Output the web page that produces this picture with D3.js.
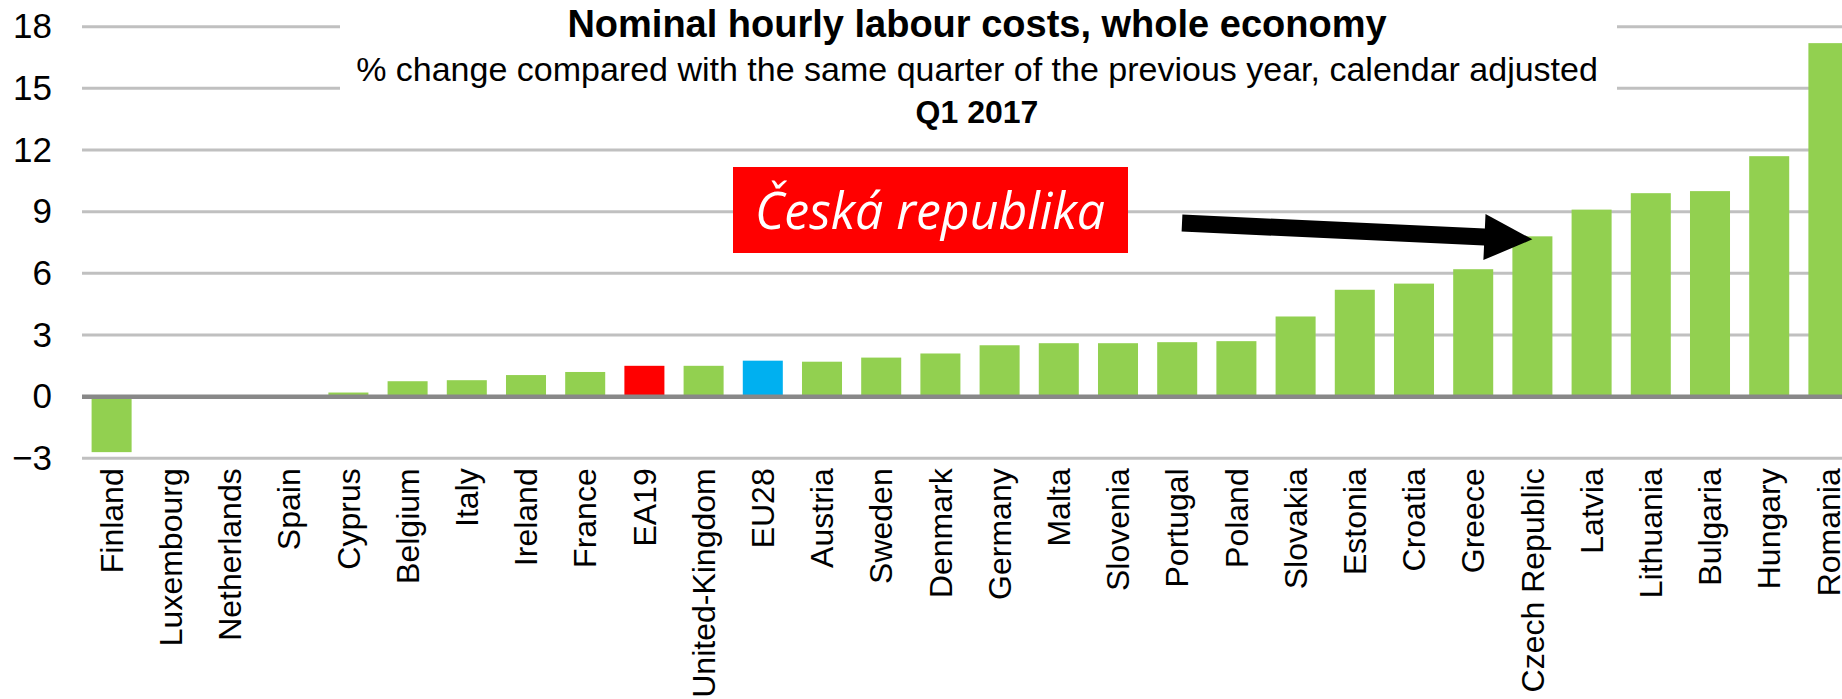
<!DOCTYPE html>
<html>
<head>
<meta charset="utf-8">
<script src="https://cdn.jsdelivr.net/npm/d3@7"></script>
<style>
body { margin: 0; background: #fff; }
svg { display: block; font-family: "Liberation Sans", Arial, sans-serif; }
</style>
</head>
<body>
<svg width="1842" height="699"></svg>
<script>
// data (Q1 2017, % change y/y)
var countries = ["Finland", "Luxembourg", "Netherlands", "Spain", "Cyprus", "Belgium", "Italy", "Ireland", "France", "EA19",
	"United-Kingdom", "EU28", "Austria", "Sweden", "Denmark", "Germany", "Malta", "Slovenia", "Portugal", "Poland",
	"Slovakia", "Estonia", "Croatia", "Greece", "Czech Republic", "Latvia", "Lithuania", "Bulgaria", "Hungary", "Romania"];
var values = [-2.7, 0.0, 0.0, 0.0, 0.2, 0.75, 0.8, 1.05, 1.2, 1.5,
	1.5, 1.75, 1.7, 1.9, 2.1, 2.5, 2.6, 2.6, 2.65, 2.7,
	3.9, 5.2, 5.5, 6.2, 7.8, 9.1, 9.9, 10.0, 11.7, 17.2];
var yTicks = [-3, 0, 3, 6, 9, 12, 15, 18];
var titleLines = ["Nominal hourly labour costs, whole economy",
	"% change compared with the same quarter of the previous year, calendar adjusted",
	"Q1 2017"];
var noteText = "Česká republika";
var noteTarget = "Czech Republic";

function drawChart() {
	var svg = d3.select("svg");
	var data = countries.map(function(c, i) {
		return { name: c, value: values[i] };
	});

	var x = d3.scaleBand()
		.domain(countries)
		.range([82, 1858])
		.paddingInner(0.324)
		.paddingOuter(0.162);
	var y = d3.scaleLinear()
		.domain([-3, 18])
		.range([458.3, 26.7]);

	function barColor(d) {
		if (d.name === "EA19") return "#FF0000";
		if (d.name === "EU28") return "#00B0F0";
		return "#92D050";
	}

	// gridlines
	svg.append("g").selectAll("line")
		.data(yTicks.filter(function(t) { return t !== 0; }))
		.enter().append("line")
		.attr("x1", 82)
		.attr("x2", 1858)
		.attr("y1", function(d) { return y(d); })
		.attr("y2", function(d) { return y(d); })
		.attr("stroke", "#C0C0C0")
		.attr("stroke-width", 3);

	// bars
	svg.append("g").selectAll("rect")
		.data(data)
		.enter().append("rect")
		.attr("x", function(d) { return x(d.name); })
		.attr("width", x.bandwidth())
		.attr("y", function(d) { return y(Math.max(0, d.value)); })
		.attr("height", function(d) { return Math.abs(y(d.value) - y(0)); })
		.attr("fill", barColor);

	// zero line
	svg.append("line")
		.attr("x1", 82)
		.attr("x2", 1858)
		.attr("y1", y(0))
		.attr("y2", y(0))
		.attr("stroke", "#888888")
		.attr("stroke-width", 4.5);

	// y axis labels
	var yAxis = svg.append("g")
		.attr("transform", "translate(82,0)")
		.call(d3.axisLeft(y).tickValues(yTicks).tickSize(0).tickPadding(30));
	yAxis.select(".domain").remove();
	yAxis.selectAll("text")
		.attr("font-family", "Liberation Sans, Arial, sans-serif")
		.attr("font-size", 35)
		.attr("fill", "#000");

	// x axis labels, rotated
	var xAxis = svg.append("g")
		.attr("transform", "translate(0," + y(-3) + ")")
		.call(d3.axisBottom(x).tickSize(0));
	xAxis.select(".domain").remove();
	xAxis.selectAll("text")
		.attr("font-family", "Liberation Sans, Arial, sans-serif")
		.attr("font-size", 32)
		.attr("fill", "#000")
		.attr("text-anchor", "end")
		.attr("transform", "rotate(-90)")
		.attr("x", -10)
		.attr("y", 0)
		.attr("dy", "0.35em");

	// title block sits on a white box over the top gridlines
	svg.append("rect")
		.attr("x", 340)
		.attr("y", 0)
		.attr("width", 1277)
		.attr("height", 132)
		.attr("fill", "#fff");

	var title = svg.append("g").attr("text-anchor", "middle").attr("fill", "#000");
	title.append("text")
		.attr("x", 977).attr("y", 37)
		.attr("font-size", 38).attr("font-weight", "bold")
		.text(titleLines[0]);
	title.append("text")
		.attr("x", 977).attr("y", 81)
		.attr("font-size", 34)
		.text(titleLines[1]);
	title.append("text")
		.attr("x", 977).attr("y", 123)
		.attr("font-size", 32).attr("font-weight", "bold")
		.text(titleLines[2]);

	// annotation box
	svg.append("rect")
		.attr("x", 733)
		.attr("y", 167)
		.attr("width", 395)
		.attr("height", 86)
		.attr("fill", "#FF0000");
	svg.append("text")
		.attr("x", 930)
		.attr("y", 229)
		.attr("text-anchor", "middle")
		.attr("font-family", "Open Sans, Noto Sans, sans-serif")
		.attr("font-style", "italic")
		.attr("font-size", 52)
		.attr("textLength", 350)
		.attr("lengthAdjust", "spacingAndGlyphs")
		.attr("fill", "#fff")
		.text(noteText);

	// arrow pointing at the Czech bar
	var target = values[countries.indexOf(noteTarget)];
	var start = [1182, 223];
	var tip = [x(noteTarget) + x.bandwidth() / 2, y(target) + 3];
	var dx = tip[0] - start[0], dy = tip[1] - start[1];
	var len = Math.sqrt(dx * dx + dy * dy);
	var ux = dx / len, uy = dy / len;
	var nx = -uy, ny = ux;
	var headLen = 48, headW = 23, shaftW = 8.5;
	var bx = tip[0] - ux * headLen, by = tip[1] - uy * headLen;
	var pts = [
		[start[0] + nx * shaftW, start[1] + ny * shaftW],
		[bx + nx * shaftW, by + ny * shaftW],
		[bx + nx * headW, by + ny * headW],
		tip,
		[bx - nx * headW, by - ny * headW],
		[bx - nx * shaftW, by - ny * shaftW],
		[start[0] - nx * shaftW, start[1] - ny * shaftW]
	];
	svg.append("path")
		.attr("d", "M" + pts.map(function(p) { return p[0] + "," + p[1]; }).join("L") + "Z")
		.attr("fill", "#000");
}

drawChart();
</script>
</body>
</html>
